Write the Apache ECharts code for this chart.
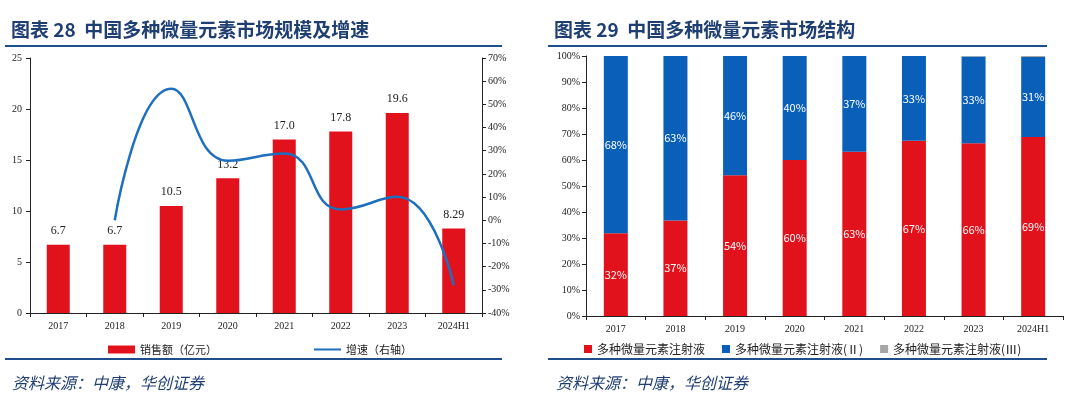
<!DOCTYPE html>
<html><head><meta charset="utf-8">
<script src="https://cdn.jsdelivr.net/npm/echarts@6/dist/echarts.min.js"></script>
<style>html,body{margin:0;padding:0;background:#fff}#c{width:1080px;height:394px}</style>
</head><body><div id="c"></div>
<script>
var categories = ['2017','2018','2019','2020','2021','2022','2023','2024H1'];
var sales = [6.7, 6.7, 10.5, 13.2, 17.0, 17.8, 19.6, 8.29];
var salesLabels = ['6.7','6.7','10.5','13.2','17.0','17.8','19.6','8.29'];
var growth = [null, 0.0, 56.7, 25.7, 28.8, 4.7, 10.1, -28.0];
var shareI = [31.8, 36.7, 54.1, 60.0, 63.2, 67.4, 66.4, 68.8];
var shareII = [68.2, 63.3, 45.9, 40.0, 36.8, 32.6, 33.4, 30.8];
var shareIII = [0, 0, 0, 0, 0, 0, 0.2, 0.4];
var leftTicks = ['0','5','10','15','20','25'];

var RED = '#E2121C', BLUE = '#0A60B8', LINE = '#1F6FBF', GRAY = '#A6A6A6', NAVY = '#1F3F73';
var serif = '"Liberation Serif","DejaVu Serif",serif';
var cjk = '"Noto Sans CJK SC","Noto Sans",sans-serif';

var chart = echarts.init(document.getElementById('c'));
var axisLine = {show: true, lineStyle: {color: '#222', width: 1}};
var axisTick = {show: true, length: 4, lineStyle: {color: '#222'}};
var axisLabel = {color: '#222', fontFamily: serif, fontSize: 10};

chart.setOption({
  animation: false,
  title: [
    {text: '图表 28  中国多种微量元素市场规模及增速', left: 6, top: 15,
     textStyle: {color: NAVY, fontSize: 19, fontWeight: 'bold', fontFamily: cjk}},
    {text: '图表 29  中国多种微量元素市场结构', left: 549, top: 15,
     textStyle: {color: NAVY, fontSize: 19, fontWeight: 'bold', fontFamily: cjk}},
    {text: '资料来源：中康，华创证券', left: 7, top: 370,
     textStyle: {color: NAVY, fontSize: 16, fontWeight: 'normal', fontStyle: 'italic', fontFamily: cjk}},
    {text: '资料来源：中康，华创证券', left: 551, top: 370,
     textStyle: {color: NAVY, fontSize: 16, fontWeight: 'normal', fontStyle: 'italic', fontFamily: cjk}}
  ],
  graphic: [
    {type: 'line', shape: {x1: 5, y1: 46, x2: 502, y2: 46}, style: {stroke: '#1F4E8C', lineWidth: 2}},
    {type: 'line', shape: {x1: 548, y1: 46, x2: 1047, y2: 46}, style: {stroke: '#1F4E8C', lineWidth: 2}},
    {type: 'line', shape: {x1: 5, y1: 359, x2: 502, y2: 359}, style: {stroke: '#1F4E8C', lineWidth: 2}},
    {type: 'line', shape: {x1: 548, y1: 359, x2: 1047, y2: 359}, style: {stroke: '#1F4E8C', lineWidth: 2}}
  ],
  legend: [
    {left: 103, top: 339, itemWidth: 27, itemHeight: 8, itemGap: 97,
     textStyle: {fontSize: 11, color: '#222', fontFamily: cjk},
     data: [{name: '销售额（亿元）', icon: 'rect'},
            {name: '增速（右轴）', icon: 'path://M0 0H40V3H0Z'}]},
    {left: 579, top: 338, width: 500, itemWidth: 8, itemHeight: 8, itemGap: 17,
     textStyle: {fontSize: 12, color: '#222', fontFamily: cjk},
     data: [{name: '多种微量元素注射液', icon: 'rect'},
            {name: '多种微量元素注射液(Ⅱ)', icon: 'rect'},
            {name: '多种微量元素注射液(Ⅲ)', icon: 'rect'}]}
  ],
  grid: [
    {left: 30, top: 58, width: 452, height: 255},
    {left: 586, top: 56, width: 477, height: 260}
  ],
  xAxis: [
    {type: 'category', gridIndex: 0, data: categories, axisLine: axisLine, axisTick: axisTick,
     axisLabel: Object.assign({}, axisLabel, {margin: 8})},
    {type: 'category', gridIndex: 1, data: categories, axisLine: axisLine, axisTick: axisTick,
     axisLabel: Object.assign({}, axisLabel, {margin: 8})}
  ],
  yAxis: [
    {type: 'value', gridIndex: 0, min: 0, max: 25, interval: 5, axisLine: axisLine, axisTick: axisTick,
     splitLine: {show: false}, axisLabel: Object.assign({}, axisLabel, {margin: 8,
       formatter: function (v) { return leftTicks[v / 5]; }})},
    {type: 'value', gridIndex: 0, position: 'right', min: -40, max: 70, interval: 10,
     axisLine: axisLine, axisTick: axisTick, splitLine: {show: false},
     axisLabel: Object.assign({}, axisLabel, {margin: 6, formatter: '{value}%'})},
    {type: 'value', gridIndex: 1, min: 0, max: 100, interval: 10, axisLine: axisLine, axisTick: axisTick,
     splitLine: {show: false}, axisLabel: Object.assign({}, axisLabel, {margin: 6, formatter: '{value}%'})}
  ],
  series: [
    {name: '销售额（亿元）', type: 'bar', xAxisIndex: 0, yAxisIndex: 0, data: sales, barWidth: 23,
     itemStyle: {color: RED},
     label: {show: true, position: 'top', distance: 8, color: '#222', fontFamily: serif, fontSize: 12,
       formatter: function (p) { return salesLabels[p.dataIndex]; }}},
    {name: '增速（右轴）', type: 'line', xAxisIndex: 0, yAxisIndex: 1, data: growth, smooth: 0.5,
     showSymbol: false, symbol: 'none', lineStyle: {color: LINE, width: 2.5}, itemStyle: {color: LINE}, z: 5},
    {name: '多种微量元素注射液', type: 'bar', stack: 's', xAxisIndex: 1, yAxisIndex: 2, data: shareI, barWidth: 24,
     itemStyle: {color: RED},
     label: {show: true, position: 'inside', color: '#fff', fontSize: 11, fontFamily: cjk,
       formatter: function (p) { return Math.round(p.value) + '%'; }}},
    {name: '多种微量元素注射液(Ⅱ)', type: 'bar', stack: 's', xAxisIndex: 1, yAxisIndex: 2, data: shareII, barWidth: 24,
     itemStyle: {color: BLUE},
     label: {show: true, position: 'inside', color: '#fff', fontSize: 11, fontFamily: cjk,
       formatter: function (p) { return Math.round(p.value) + '%'; }}},
    {name: '多种微量元素注射液(Ⅲ)', type: 'bar', stack: 's', xAxisIndex: 1, yAxisIndex: 2, data: shareIII, barWidth: 24,
     itemStyle: {color: GRAY}}
  ]
});
</script></body></html>
